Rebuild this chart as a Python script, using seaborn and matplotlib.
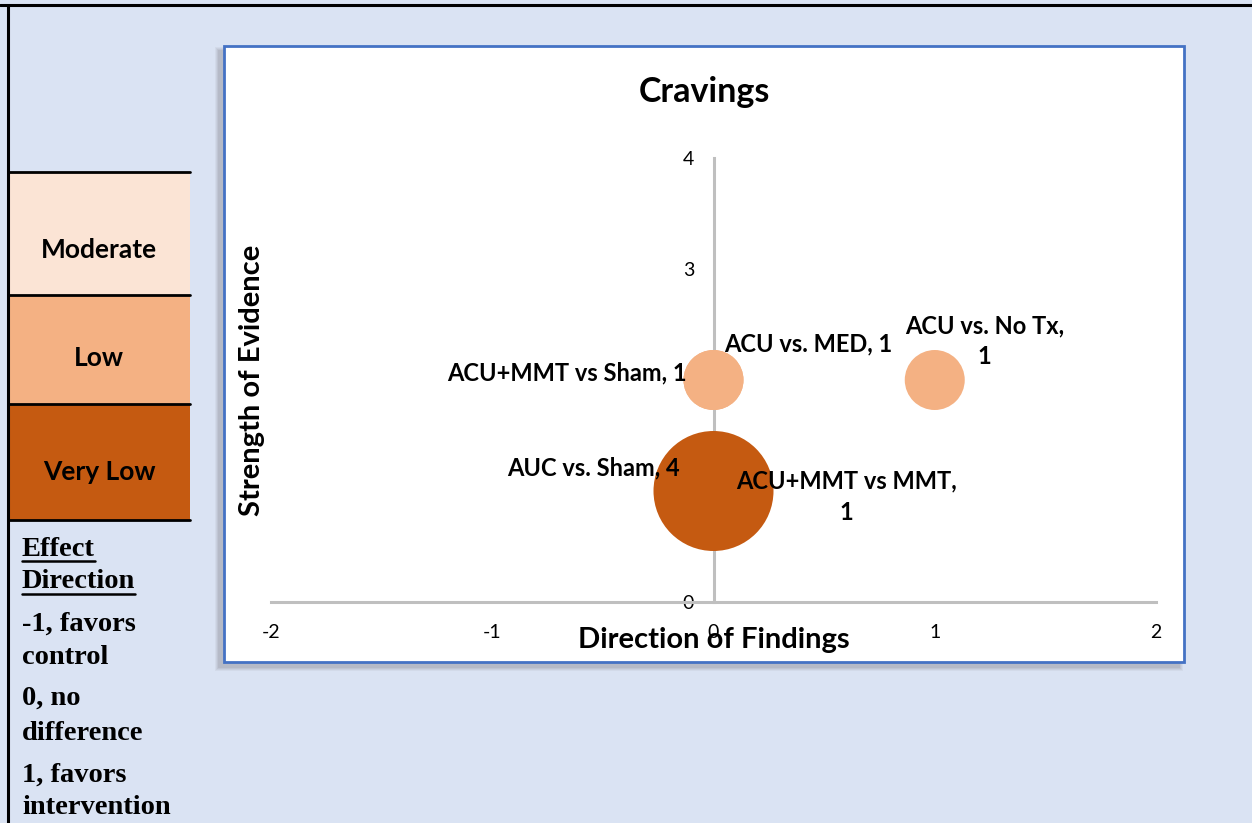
import matplotlib
matplotlib.use("Agg")
import matplotlib.pyplot as plt
from matplotlib.patches import Rectangle
from matplotlib.lines import Line2D
import seaborn as sns
import pandas as pd

# ---- data ----
comparisons = ["ACU+MMT vs Sham", "ACU vs. MED", "ACU vs. No Tx", "AUC vs. Sham", "ACU+MMT vs MMT"]
direction = [0, 0, 1, 0, 0]          # effect direction (-1 control, 0 none, 1 intervention)
strength = [2, 2, 2, 1, 1]           # strength of evidence
n_studies = [1, 1, 1, 4, 1]          # bubble size
strength_names = {1: "Very Low", 2: "Low", 3: "Moderate"}
strength_colors = {"Moderate": "#FBE4D5", "Low": "#F4B183", "Very Low": "#C55A11"}
x_ticks = [-2, -1, 0, 1, 2]
y_ticks = [0, 1, 2, 3, 4]
effect_lines = [["-1, favors", "control"], ["0, no", "difference"], ["1, favors", "intervention"]]

df = pd.DataFrame({
    "comparison": comparisons,
    "direction": direction,
    "strength": strength,
    "n": n_studies,
})
df["level"] = df["strength"].map(strength_names)
df["label"] = [f"{c}, {n}" for c, n in zip(df["comparison"], df["n"])]

W, H = 1252, 823
BG = "#DAE3F3"

sns.set_theme(style="white")
plt.rcParams["font.family"] = ["Lato", "DejaVu Sans"]
plt.rcParams["text.color"] = "black"
plt.rcParams["axes.labelcolor"] = "black"

fig = plt.figure(figsize=(W / 100, H / 100), dpi=100)
fig.patch.set_facecolor(BG)


def fx(x):
    return x / W


def fy(y):
    return 1 - y / H


# outer frame lines (top and left)
fig.add_artist(Line2D([0, 1], [fy(5), fy(5)], transform=fig.transFigure, color="black", lw=2.2))
fig.add_artist(Line2D([fx(8), fx(8)], [fy(5), 0], transform=fig.transFigure, color="black", lw=2.2))

# strength-of-evidence key on the left
key_rows = [("Moderate", 172, 295, 250), ("Low", 295, 404, 358), ("Very Low", 404, 520, 472)]
for name, top, bot, ty in key_rows:
    fig.add_artist(Rectangle((fx(8), fy(bot)), fx(190 - 8), (bot - top) / H,
                             transform=fig.transFigure, facecolor=strength_colors[name],
                             edgecolor="none", zorder=1))
    fig.text(fx(99), fy(ty), name, ha="center", va="center",
             fontsize=19, fontweight="bold", color="black")
for yl in [172, 295, 404, 520]:
    fig.add_artist(Line2D([fx(8), fx(190)], [fy(yl), fy(yl)], transform=fig.transFigure,
                          color="black", lw=2.0, zorder=2))

# effect direction key
serif = ["Liberation Serif", "DejaVu Serif"]
head = []
for txt, yc in [("Effect", 549), ("Direction", 582)]:
    head.append(fig.text(fx(22), fy(yc), txt, ha="left", va="center", fontsize=20.5,
                         fontweight="bold", family=serif, color="black"))
line_y = [[624, 658], [698, 733], [775, 808]]
for pair, ys in zip(effect_lines, line_y):
    for txt, yc in zip(pair, ys):
        fig.text(fx(22), fy(yc), txt, ha="left", va="center", fontsize=20.5,
                 fontweight="bold", family=serif, color="black")

# chart area with soft shadow and blue border
cx0, cy0, cx1, cy1 = 224, 46, 1184, 662
for i, a in enumerate([0.05, 0.06, 0.07, 0.08]):
    grow = 4 - i
    fig.add_artist(Rectangle((fx(cx0 - 5 - grow), fy(cy1 + 5 + grow)),
                             fx(cx1 - cx0 + 2 * grow), (cy1 - cy0 + 2 * grow) / H,
                             transform=fig.transFigure, facecolor="#404040", alpha=a,
                             edgecolor="none", zorder=-3))
fig.add_artist(Rectangle((fx(cx0), fy(cy1)), fx(cx1 - cx0), (cy1 - cy0) / H,
                         transform=fig.transFigure, facecolor="white",
                         edgecolor="#4472C4", lw=2.0, zorder=-2))

fig.text(fx(704), fy(92), "Cravings", ha="center", va="center", fontsize=24.5,
         fontweight="bold", color="black")

# plot area
ax_left, ax_right, ax_top, ax_bot = 271, 1156, 158, 602
ax = fig.add_axes([fx(ax_left), fy(ax_bot), fx(ax_right - ax_left), (ax_bot - ax_top) / H])
ax.set_facecolor("none")

sns.scatterplot(data=df.sort_values("n", ascending=False), x="direction", y="strength",
                hue="level", palette=strength_colors, size="n", sizes={1: 1866, 4: 7465},
                linewidth=0, alpha=1, legend=False, ax=ax, zorder=3, clip_on=False)

ax.set_xlim(-2, 2)
ax.set_ylim(0, 4)
ax.set_xticks(x_ticks)
ax.set_yticks(y_ticks)
ax.set_xticklabels([str(v) for v in x_ticks])
ax.set_yticklabels([str(v) for v in y_ticks])
for s in ["top", "right"]:
    ax.spines[s].set_visible(False)
ax.spines["left"].set_position(("data", 0))
ax.spines["bottom"].set_position(("data", 0))
for s in ["left", "bottom"]:
    ax.spines[s].set_color("#BFBFBF")
    ax.spines[s].set_linewidth(2.2)
    ax.spines[s].set_zorder(1)
ax.tick_params(axis="x", length=0, pad=16, labelsize=14, labelcolor="black")
ax.tick_params(axis="y", length=0, pad=14, labelsize=14, labelcolor="black")
for t in ax.get_yticklabels() + ax.get_xticklabels():
    t.set_zorder(5)

ax.set_xlabel("Direction of Findings", fontsize=21, fontweight="bold", color="black")
ax.set_ylabel("Strength of Evidence", fontsize=21, fontweight="bold", color="black")
ax.xaxis.label.set_va("center")
ax.yaxis.label.set_va("center")
ax.xaxis.set_label_coords(0.5, (ax_bot - 640) / (ax_bot - ax_top))
ax.yaxis.set_label_coords((252 - ax_left) / (ax_right - ax_left), 0.5)

# data labels (offsets in points from each bubble centre)
label_style = {
    "ACU+MMT vs Sham": dict(xytext=(-19, 5), ha="right", wrap=False),
    "ACU vs. MED": dict(xytext=(8, 26), ha="left", wrap=False),
    "ACU vs. No Tx": dict(xytext=(36, 28), ha="center", wrap=True),
    "AUC vs. Sham": dict(xytext=(-24, 16.5), ha="right", wrap=False),
    "ACU+MMT vs MMT": dict(xytext=(96, -4), ha="center", wrap=True),
}
for _, r in df.iterrows():
    st = label_style[r["comparison"]]
    txt = f"{r['comparison']},\n{r['n']}" if st["wrap"] else r["label"]
    ax.annotate(txt, (r["direction"], r["strength"]), xytext=st["xytext"],
                textcoords="offset points", ha=st["ha"], va="center", multialignment="center",
                fontsize=17, fontweight="bold", color="black", zorder=6,
                linespacing=1.42, annotation_clip=False)

# underline the "Effect Direction" heading
fig.canvas.draw()
renderer = fig.canvas.get_renderer()
for t in head:
    bb = t.get_window_extent(renderer)
    yline = bb.y0 + 1
    fig.add_artist(Line2D([bb.x0 / W, bb.x1 / W], [yline / H, yline / H],
                          transform=fig.transFigure, color="black", lw=1.8))

fig.savefig("out.png", dpi=100, facecolor=BG)
